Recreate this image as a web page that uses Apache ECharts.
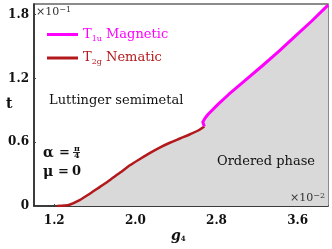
<!DOCTYPE html>
<html><head><meta charset="utf-8">
<script src="https://cdn.jsdelivr.net/npm/echarts@6/dist/echarts.min.js"></script>
<style>html,body{margin:0;padding:0;background:#fff}#c{width:332px;height:249px}</style>
</head><body><div id="c"></div>
<script>
// Nematic (T2g) boundary: [g4, t]
const nematic = [[1.225,0],[1.3,0.004],[1.35,0.012],[1.45,0.055],[1.55,0.115],[1.65,0.18],[1.75,0.245],[1.85,0.315],[1.95,0.385],[2.05,0.445],[2.145,0.50],[2.24,0.55],[2.34,0.595],[2.44,0.635],[2.54,0.675],[2.62,0.71],[2.68,0.747]];
// Magnetic (T1u) boundary
const magnetic = [[2.68,0.747],[2.665,0.79],[2.69,0.83],[2.72,0.865],[2.82,0.96],[2.92,1.049],[3.08,1.18],[3.25,1.317],[3.42,1.46],[3.58,1.60],[3.74,1.74],[3.9,1.89]];
const xTicks = [1.2, 2.0, 2.8, 3.6];
const yTicks = [0, 0.6, 1.2, 1.8];
const fillData = nematic.concat(magnetic.slice(1));

const serif = '"DejaVu Serif", "Liberation Serif", serif';
const chart = echarts.init(document.getElementById('c'), null, {renderer:'canvas'});
const T = (x,y,text,font,extra) => Object.assign({type:'text',x:x,y:y,z:10,style:{text:text,font:font+' '+serif,fill:'#111',align:'left',verticalAlign:'middle'}}, extra||{});
chart.setOption({
  animation:false,
  grid:{left:34,right:4,top:4,bottom:43,show:true,borderColor:'#666',borderWidth:1.5,backgroundColor:'transparent'},
  xAxis:{type:'value',min:1.0,max:3.9,interval:0.4,
    axisLine:{show:true,lineStyle:{color:'#222',width:1.5}},
    axisTick:{show:true,inside:true,length:2,lineStyle:{color:'#444'},customValues:xTicks},
    axisLabel:{customValues:xTicks,fontFamily:serif,fontWeight:'bold',fontSize:12,color:'#111',margin:9,
      formatter:v=>v.toFixed(1)},
    splitLine:{show:false}},
  yAxis:{type:'value',min:0,max:1.9,interval:0.6,
    axisLine:{show:true,lineStyle:{color:'#222',width:1.5}},
    axisTick:{show:true,inside:true,length:2,lineStyle:{color:'#444'},customValues:yTicks},
    axisLabel:{customValues:yTicks,fontFamily:serif,fontWeight:'bold',fontSize:12,color:'#111',margin:5,
      formatter:v=>v===0?'0':v.toFixed(1)},
    splitLine:{show:false}},
  legend:{left:42,top:23,orient:'vertical',itemGap:9,itemWidth:31,itemHeight:3,icon:'rect',
    data:[{name:'T1u'},{name:'T2g'}],
    formatter:n=> n==='T1u' ? '{m|T}{ms|1u}{m| Magnetic}' : '{r|T}{rs|2g}{r| Nematic}',
    textStyle:{rich:{
      m:{fontFamily:serif,fontSize:13,color:'#ff00ff',lineHeight:16,verticalAlign:'middle'},
      ms:{fontFamily:serif,fontSize:8,color:'#ff00ff',lineHeight:16,verticalAlign:'bottom',padding:[5,0,0,0]},
      r:{fontFamily:serif,fontSize:13,color:'#b3191c',lineHeight:16,verticalAlign:'middle'},
      rs:{fontFamily:serif,fontSize:8,color:'#b3191c',lineHeight:16,verticalAlign:'bottom',padding:[5,0,0,0]}
    }}},
  series:[
    {type:'line',name:'fill',data:fillData,showSymbol:false,silent:true,lineStyle:{width:0},
      areaStyle:{color:'#d9d9d9',opacity:1},z:1},
    {type:'line',name:'T2g',data:nematic,showSymbol:false,smooth:0.3,lineStyle:{color:'#b3191c',width:2.5},itemStyle:{color:'#b3191c'},z:3},
    {type:'line',name:'T1u',data:magnetic,showSymbol:false,smooth:false,lineStyle:{color:'#ff00ff',width:3,join:'round'},itemStyle:{color:'#ff00ff'},z:4}
  ],
  graphic:[
    {type:'text',left:36,top:6,style:{rich:{a:{fontFamily:serif,fontSize:11,fill:'#333'},b:{fontFamily:serif,fontSize:8,fill:'#333',verticalAlign:'top',padding:[0,0,5,0]}},text:'{a|×10}{b|−1}'},z:10},
    {type:'text',right:7,top:192,style:{rich:{a:{fontFamily:serif,fontSize:11,fill:'#333'},b:{fontFamily:serif,fontSize:8,fill:'#333',verticalAlign:'top',padding:[0,0,5,0]}},text:'{a|×10}{b|−2}'},z:10},
    {type:'text',left:49,top:94,style:{text:'Luttinger semimetal',font:'13px '+serif,fill:'#111'},z:10},
    {type:'text',left:217,top:155,style:{text:'Ordered phase',font:'13px '+serif,fill:'#111'},z:10},
    T(43,153,'α','bold 14px'),
    T(59,153,'=','bold 13px'),
    T(74,149,'π','bold 8px'),
    {type:'rect',shape:{x:73,y:152,width:7,height:0.9},style:{fill:'#111'},z:10},
    T(74,156,'4','bold 8px'),
    T(43,172,'μ','bold 14px'),
    T(58,172,'=','bold 13px'),
    T(72,172,'0','bold 13px'),
    {type:'text',left:6,top:97,style:{text:'t',font:'bold 14px '+serif,fill:'#111'},z:10},
    {type:'text',left:171,top:229,style:{rich:{a:{fontFamily:serif,fontSize:14,fontStyle:'italic',fontWeight:'bold',fill:'#111'},b:{fontFamily:serif,fontSize:7,fill:'#111',fontWeight:'bold',padding:[6,0,0,0]}},text:'{a|g}{b|4}'},z:10}
  ]
});
</script></body></html>
